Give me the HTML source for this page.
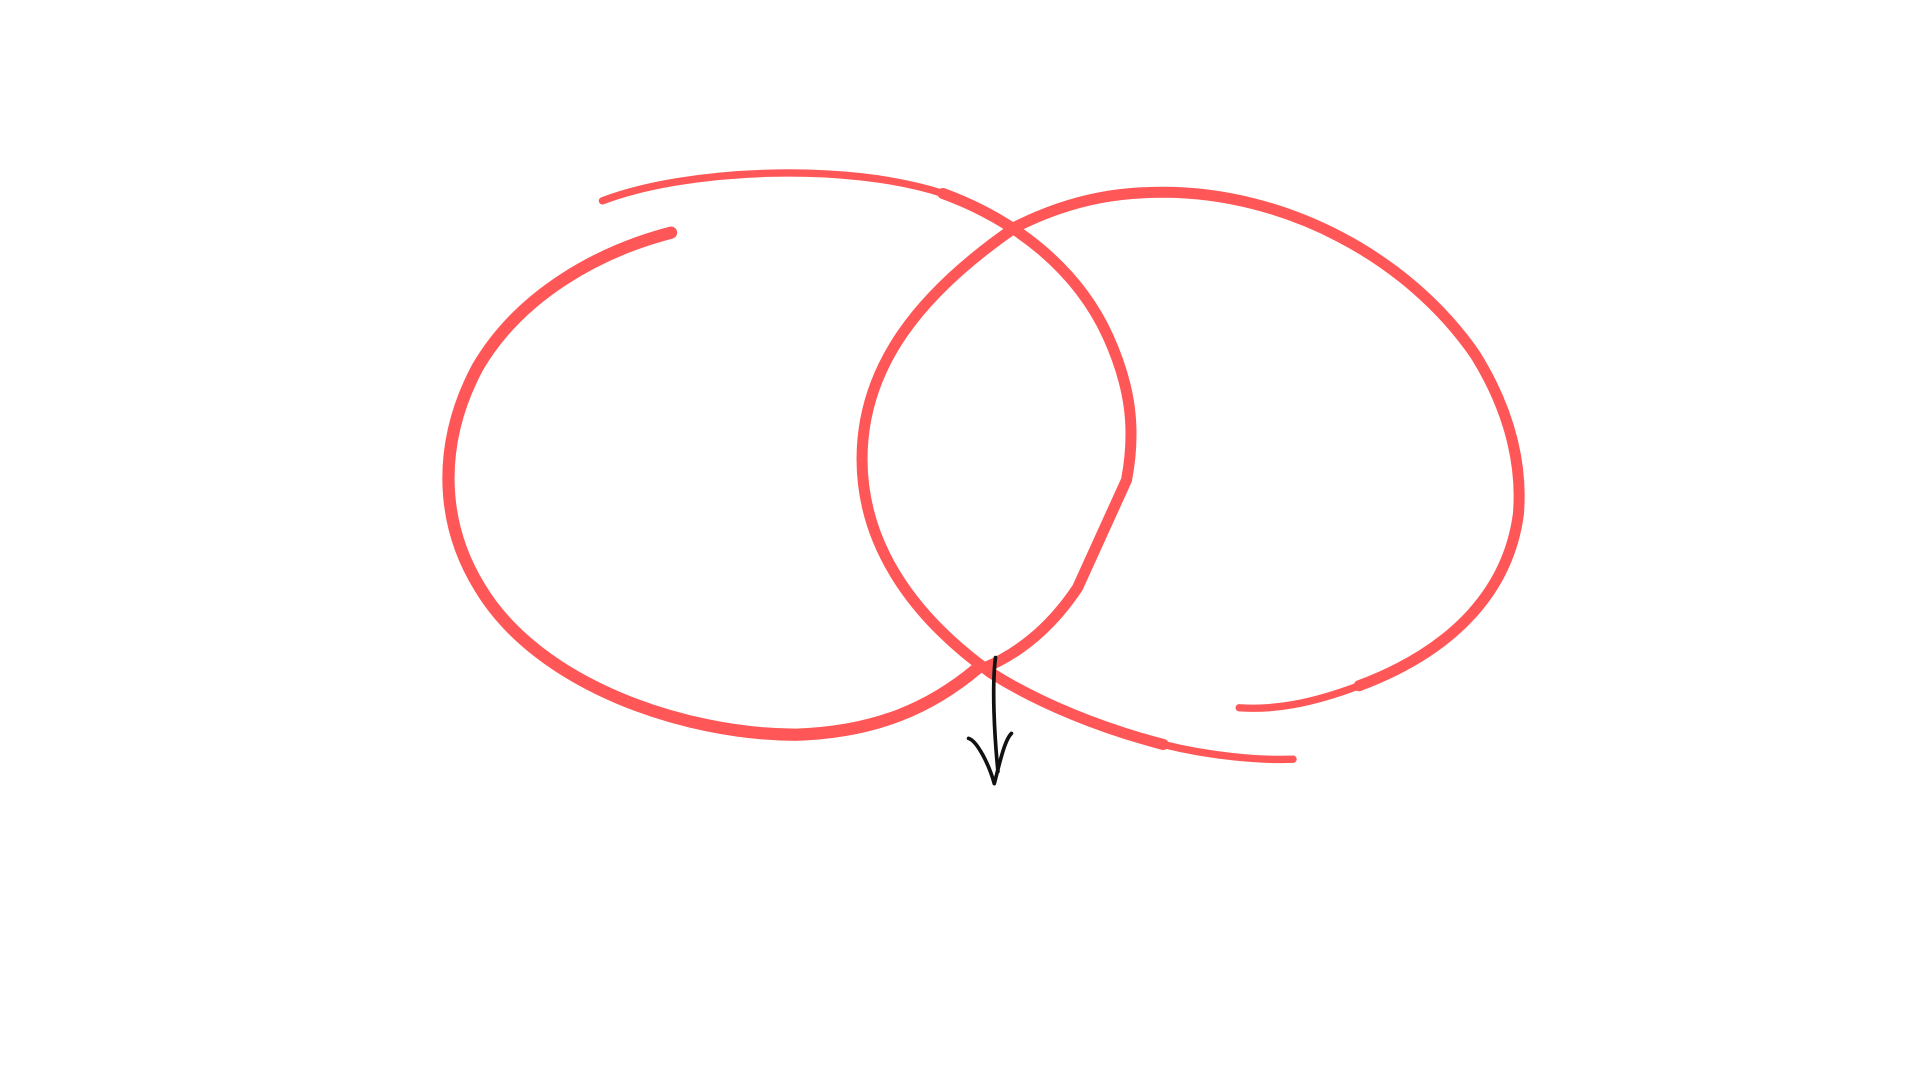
<!DOCTYPE html>
<html><head><meta charset="utf-8"><style>html,body{margin:0;padding:0;background:#fff;width:1920px;height:1080px;overflow:hidden}</style></head>
<body>
<svg width="1920" height="1080" viewBox="0 0 1568 882" preserveAspectRatio="none" xmlns="http://www.w3.org/2000/svg">
<g fill="none" stroke="#ff5757" stroke-linecap="round" stroke-linejoin="round">
<path stroke-width="6" d="M492,164 C560,138 690,132 770,158"/>
<path stroke-width="9" d="M770,158 C830,180 880,220 905,275 C923,315 928,350 920,392 L880,480 C860,510 835,532 805,545"/>
<path stroke-width="10" d="M798,546 C760,578 715,598 650,600 C560,600 440,560 392,480 C358,425 358,360 390,300 C425,240 490,205 548,190"/>
<path stroke-width="6" d="M1056,620 C1030,621 990,618 950,608"/>
<path stroke-width="9" d="M950,608 C900,595 850,575 810,550 C740,500 704,440 704,375 C704,300 750,240 830,185 C880,160 920,157 950,157 C1050,157 1150,210 1205,290 C1236,340 1243,385 1240,420 C1232,480 1190,530 1110,560"/>
<path stroke-width="6" d="M1110,560 C1070,575 1040,580 1012,578"/>
</g>
<g fill="none" stroke="#111" stroke-width="3" stroke-linecap="round" stroke-linejoin="round">
<path d="M813,537 C810,560 812,600 815,630"/>
<path d="M791,603 C798,605 808,625 812,640 C816,625 820,605 826,599"/>
</g>
</svg>
</body></html>
